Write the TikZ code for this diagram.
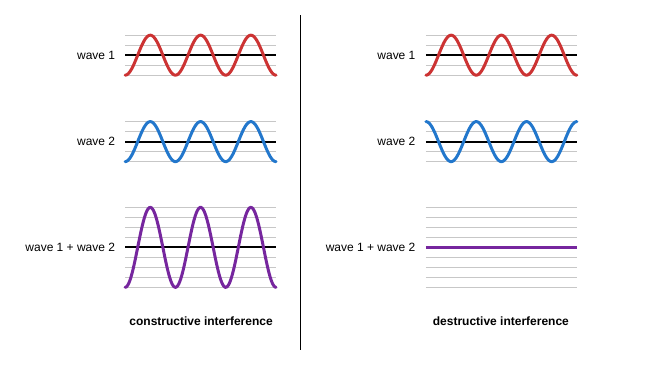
\documentclass[tikz,border=0pt]{standalone}
\usepackage{fontspec}
\setmainfont{Liberation Sans}
\usepackage{tikz}
\definecolor{wavered}{RGB}{204, 51, 51}
\definecolor{waveblue}{RGB}{34, 119, 204}
\definecolor{wavepurple}{RGB}{118, 38, 158}
\definecolor{gray78}{gray}{0.78}
\tikzset{
  guide/.style={color=gray78, line width=1pt},
  midline/.style={color=black, line width=2pt},
  wave/.style={line width=3pt, line cap=round, samples=150, smooth},
  caption/.style={font=\fontsize{12}{14}\selectfont\bfseries}
}

\begin{document}
\begin{tikzpicture}[x=1pt, y=-1pt, font=\fontsize{12}{14}\selectfont]
  \draw[color=white] (0, 0) rectangle (666, 370);

  % degrees per pixel: three periods over 151px
  \pgfmathsetmacro{\k}{1080/151}
  \pgfmathsetmacro{\dx}{301}

  % left half: constructive
  \foreach \y in {35, 45, 65, 75, 121.5, 131.5, 151.5, 161.5,
                  207.3, 217.3, 227.3, 237.3, 257.3, 267.3, 277.3, 287.3}
    \draw[guide] (125, \y) -- +(151, 0);

  \draw[midline] (125, 55) -- +(151, 0);
  \draw[midline] (125, 141.5) -- +(151, 0);
  \draw[midline] (125, 247.3) -- +(151, 0);

  \draw[wave, color=wavered, domain=125:276]
    plot (\x, {55 + 20*cos(\k*(\x - 125))});
  \draw[wave, color=waveblue, domain=125:276]
    plot (\x, {141.5 + 20*cos(\k*(\x - 125))});
  \draw[wave, color=wavepurple, domain=125:276]
    plot (\x, {247.3 + 40*cos(\k*(\x - 125))});

  \node[anchor=east] (oneL) at (118.5, 55) {wave 1};
  \node[anchor=east] (twoL) at (118.5, 141.5) {wave 2};
  \node[anchor=east] (sumL) at (118.5, 247.3) {wave 1 + wave 2};
  \node[caption] (capL) at (201, 321) {constructive interference};

  % divider
  \draw[line width=1pt] (300.5, 15) -- (300.5, 350);

  % right half: destructive
  \foreach \y in {35, 45, 65, 75, 121.5, 131.5, 151.5, 161.5,
                  207.3, 217.3, 227.3, 237.3, 257.3, 267.3, 277.3, 287.3}
    \draw[guide] (125 + \dx, \y) -- +(151, 0);

  \draw[midline] (125 + \dx, 55) -- +(151, 0);
  \draw[midline] (125 + \dx, 141.5) -- +(151, 0);

  \draw[wave, color=wavered, domain=426:577]
    plot (\x, {55 + 20*cos(\k*(\x - 426))});
  \draw[wave, color=waveblue, domain=426:577]
    plot (\x, {141.5 - 20*cos(\k*(\x - 426))});
  % sum is flat
  \draw[line width=3pt, color=wavepurple] (125 + \dx, 247.3) -- +(151, 0);

  \node[anchor=east] (oneR) at (419, 55) {wave 1};
  \node[anchor=east] (twoR) at (419, 141.5) {wave 2};
  \node[anchor=east] (sumR) at (419, 247.3) {wave 1 + wave 2};
  \node[caption] (capR) at (501, 321) {destructive interference};
\end{tikzpicture}
\end{document}
